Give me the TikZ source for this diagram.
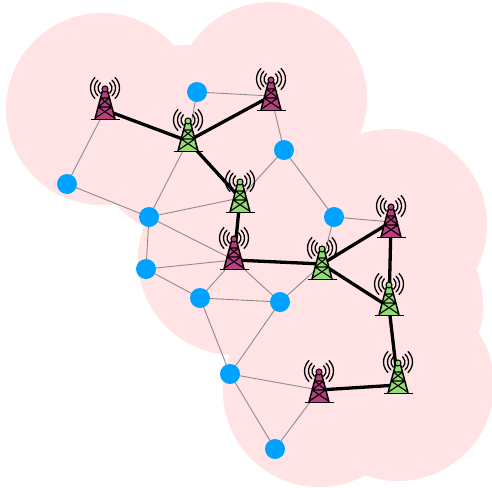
\documentclass[tikz,border=0pt]{standalone}
\definecolor{halo}{HTML}{FFE3E5}
\definecolor{dotblue}{HTML}{00A2FF}
\definecolor{twmag}{HTML}{B83F80}
\definecolor{twgrn}{HTML}{93DB73}
\definecolor{thin}{HTML}{8C8C8C}
\tikzset{
  x=1pt,y=-1pt,
  sensor/.style={circle,fill=dotblue,draw=none,minimum size=20pt,inner sep=0pt},
  anchorpt/.style={circle,inner sep=0pt,minimum size=0pt},
  thinlink/.style={draw=thin,line width=0.9pt},
  thicklink/.style={draw=black,line width=3.3pt},
  tower/.pic={
    \fill[fill=#1] (-2.6,3) -- (2.6,3) -- (10,31) -- (-10,31) -- cycle;
    \draw[black,line width=1.5pt,line join=round] (-2.6,3) -- (-10,31) (2.6,3) -- (10,31);
    \draw[black,line width=1.1pt] (-4.5,10) -- (6.8,19) (4.5,10) -- (-6.8,19)
      (-4.5,10) -- (4.5,10) (-6.8,19) -- (6.8,19) (-6.8,19) -- (9.5,30) (6.8,19) -- (-9.5,30);
    \draw[black,line width=1.7pt] (-14.5,31.5) -- (14.5,31.5);
    \fill[fill=#1,draw=black,line width=1.1pt] (0,1) circle (3);
    \foreach \r/\w in {7/48,10.5/48,14.5/46}{
      \draw[black,line width=1.3pt,line cap=round] (\w:\r) arc[start angle=\w,end angle=-\w,radius=\r];
      \draw[black,line width=1.3pt,line cap=round] (180-\w:\r) arc[start angle=180-\w,end angle=180+\w,radius=\r];
    }
  }
}
\begin{document}
\begin{tikzpicture}
\useasboundingbox (0,0) rectangle (492,487);
\clip (0,0) rectangle (492,487);
% halos
\foreach \x/\y in {102/109,188/141,271/98,240/202,234/259,322/269,391/225,387/305,398/385,319/391}
  \fill[halo] (\x,\y) circle (96);
% anchors of the towers
\node[anchorpt] (m1) at (105,110) {};
\node[anchorpt] (g1) at (188,141) {};
\node[anchorpt] (m2) at (271,96) {};
\node[anchorpt] (g2) at (240,198) {};
\node[anchorpt] (m3) at (234,260) {};
\node[anchorpt] (g3) at (322,264) {};
\node[anchorpt] (m4) at (391,222) {};
\node[anchorpt] (g4) at (389,307) {};
\node[anchorpt] (g5) at (398,385) {};
\node[anchorpt] (m5) at (319,390) {};
% sensor positions
\node[anchorpt] (a) at (197,92) {};
\node[anchorpt] (b) at (284,150) {};
\node[anchorpt] (c) at (67,184) {};
\node[anchorpt] (d) at (149,217) {};
\node[anchorpt] (e) at (334,217) {};
\node[anchorpt] (f) at (146,269) {};
\node[anchorpt] (h) at (200,298) {};
\node[anchorpt] (i) at (280,302) {};
\node[anchorpt] (j) at (230,374) {};
\node[anchorpt] (k) at (275,449) {};
% thin links
\foreach \p/\q in {m1/c,c/d,d/g1,g1/a,a/m2,m2/b,b/g2,b/e,e/m4,e/g3,g3/i,d/g2,d/m3,d/f,f/m3,f/h,h/m3,h/i,m3/i,h/j,i/j,j/m5,j/k,k/m5}
  \draw[thinlink] (\p) -- (\q);
% thick links
\foreach \p/\q in {m1/g1,g1/m2,g1/g2,g2/m3,m3/g3,g3/m4,g3/g4,m4/g4,g4/g5,g5/m5}
  \draw[thicklink] (\p) -- (\q);
% towers
\foreach \x/\y/\c in {105/88/twmag,271/79/twmag,234/238/twmag,391/206/twmag,319/371/twmag,188/120/twgrn,240/181/twgrn,322/248/twgrn,389/284/twgrn,398/362/twgrn}
  \pic at (\x,\y) {tower=\c};
% sensors
\node[sensor] (sa) at (a) {};
\node[sensor] (sb) at (b) {};
\node[sensor] (sc) at (c) {};
\node[sensor] (sd) at (d) {};
\node[sensor] (se) at (e) {};
\node[sensor] (sf) at (f) {};
\node[sensor] (sh) at (h) {};
\node[sensor] (si) at (i) {};
\node[sensor] (sj) at (j) {};
\node[sensor] (sk) at (k) {};
\end{tikzpicture}
\end{document}
